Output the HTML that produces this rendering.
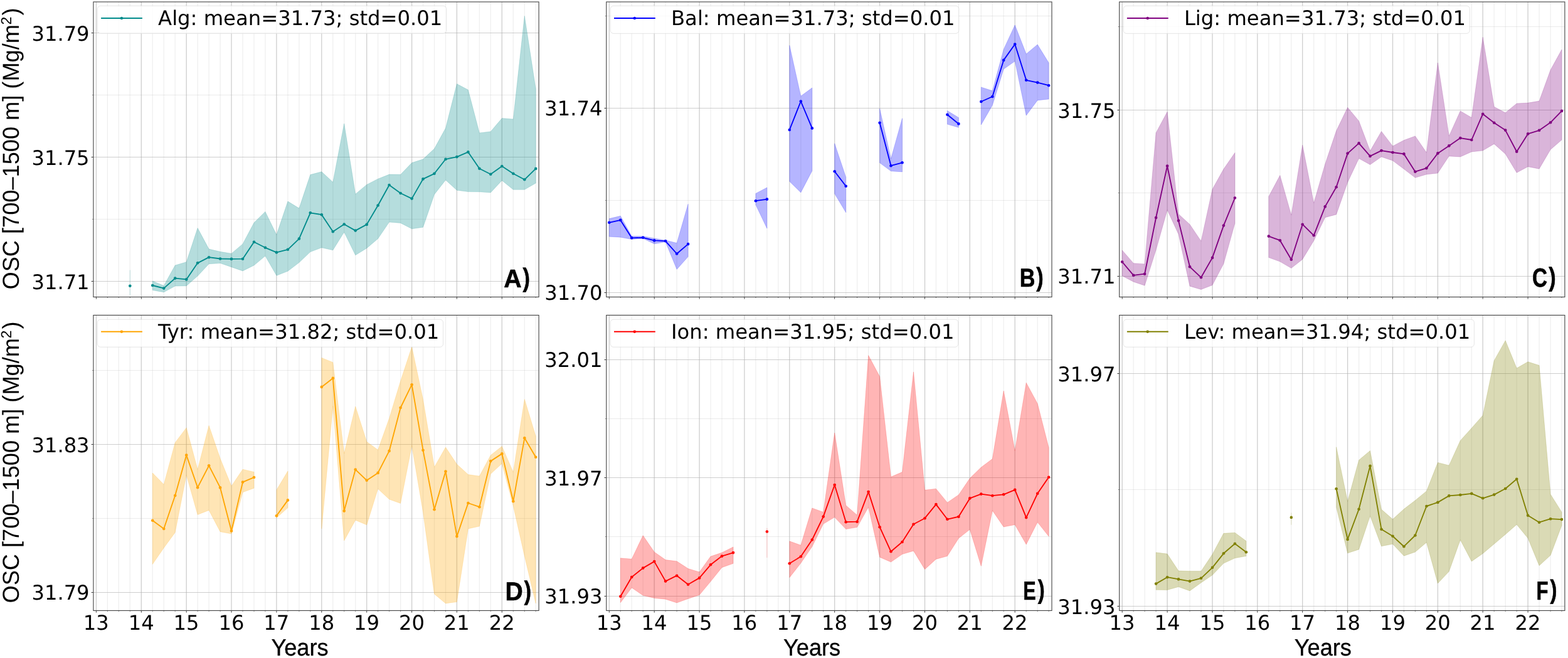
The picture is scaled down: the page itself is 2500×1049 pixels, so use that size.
<!DOCTYPE html>
<html lang="en">
<head>
<meta charset="utf-8">
<title>OSC time series</title>
<style>
html,body{margin:0;padding:0;background:#fff;}
body{width:2500px;height:1049px;overflow:hidden;}
svg{display:block;}
text{fill:#000;text-rendering:geometricPrecision;}
.tk{font-family:"DejaVu Sans","Liberation Sans",sans-serif;font-size:32.2px;text-rendering:geometricPrecision;}
.lg{font-family:"DejaVu Sans","Liberation Sans",sans-serif;font-size:32.25px;text-rendering:geometricPrecision;}
.xl{font-family:"Liberation Sans",Arial,sans-serif;font-size:36.2px;stroke:#000;stroke-width:0.3px;}
.yl{font-family:"Liberation Sans",Arial,sans-serif;font-size:36.2px;}
.lt{font-family:"Liberation Sans",Arial,sans-serif;font-weight:bold;font-size:40px;stroke:#000;stroke-width:0.6px;stroke-linejoin:round;}
</style>
</head>
<body>
<svg width="2500" height="1049" viewBox="0 0 2500 1049" role="img" aria-label="OSC time series for six sub-basins">
<rect width="2500" height="1049" fill="#fff"/>
<g>
<clipPath id="c0"><rect x="148.9" y="3.0" width="710.2" height="470.5"/></clipPath>
<path d="M171.4 3.0V473.5M189.3 3.0V473.5M207.3 3.0V473.5M243.2 3.0V473.5M261.2 3.0V473.5M279.2 3.0V473.5M315.1 3.0V473.5M333.1 3.0V473.5M351.1 3.0V473.5M387.0 3.0V473.5M405.0 3.0V473.5M422.9 3.0V473.5M458.9 3.0V473.5M476.9 3.0V473.5M494.8 3.0V473.5M530.8 3.0V473.5M548.7 3.0V473.5M566.7 3.0V473.5M602.6 3.0V473.5M620.6 3.0V473.5M638.6 3.0V473.5M674.5 3.0V473.5M692.5 3.0V473.5M710.5 3.0V473.5M746.4 3.0V473.5M764.4 3.0V473.5M782.3 3.0V473.5M818.3 3.0V473.5M836.3 3.0V473.5M854.2 3.0V473.5" stroke="#b0b0b0" stroke-width="1.2" stroke-opacity="0.22" fill="none"/>
<path d="M148.9 151.5H859.1M148.9 349.5H859.1" stroke="#b0b0b0" stroke-width="1" stroke-opacity="0.26" fill="none"/>
<path d="M153.4 3.0V473.5M225.3 3.0V473.5M297.2 3.0V473.5M369.0 3.0V473.5M440.9 3.0V473.5M512.8 3.0V473.5M584.7 3.0V473.5M656.6 3.0V473.5M728.4 3.0V473.5M800.3 3.0V473.5" stroke="#b0b0b0" stroke-width="1.3" stroke-opacity="0.62" fill="none"/>
<path d="M148.9 52.5H859.1M148.9 250.5H859.1M148.9 448.5H859.1" stroke="#b0b0b0" stroke-width="1" stroke-opacity="0.62" fill="none"/>
<g clip-path="url(#c0)">
<path d="M207.3 430.5V471.0" stroke="#008b8b" stroke-width="0.8" stroke-opacity="0.29" fill="none"/>
<path d="M243.2 448.1L261.2 455.5L279.2 423.0L297.2 417.7L315.1 363.5L333.1 397.1L351.1 401.3L369.0 404.2L387.0 388.9L405.0 355.1L422.9 337.4L440.9 374.3L458.9 321.0L476.9 332.1L494.8 278.5L512.8 273.8L530.8 290.4L548.7 197.1L566.7 309.5L584.7 294.4L602.6 285.2L620.6 278.1L638.6 278.3L656.6 259.6L674.5 253.8L692.5 237.1L710.5 204.2L728.4 133.7L746.4 143.3L764.4 211.9L782.3 209.7L800.3 188.6L818.3 190.0L836.3 25.4L854.2 141.7L854.2 292.0L836.3 302.3L818.3 302.3L800.3 287.7L782.3 307.0L764.4 305.8L746.4 305.6L728.4 303.3L710.5 287.0L692.5 310.0L674.5 362.3L656.6 364.8L638.6 355.5L620.6 354.1L602.6 380.6L584.7 395.7L566.7 406.8L548.7 370.1L530.8 398.8L512.8 394.8L494.8 401.6L476.9 418.6L458.9 432.3L440.9 439.3L422.9 408.1L405.0 423.0L387.0 431.9L369.0 425.7L351.1 419.6L333.1 420.7L315.1 440.1L297.2 455.7L279.2 456.1L261.2 465.8L243.2 462.6Z" fill="#008b8b" fill-opacity="0.29" stroke="#008b8b" stroke-opacity="0.18" stroke-width="1" stroke-linejoin="round"/>
<path d="M243.2 455.0L261.2 459.6L279.2 443.6L297.2 445.4L315.1 419.3L333.1 410.2L351.1 412.5L369.0 412.9L387.0 412.7L405.0 385.7L422.9 394.8L440.9 402.4L458.9 397.8L476.9 380.6L494.8 339.3L512.8 342.2L530.8 369.2L548.7 357.5L566.7 367.6L584.7 357.9L602.6 327.5L620.6 295.0L638.6 308.0L656.6 316.6L674.5 285.4L692.5 276.8L710.5 253.8L728.4 250.1L746.4 242.4L764.4 268.7L782.3 277.8L800.3 265.0L818.3 276.7L836.3 286.3L854.2 268.9" fill="none" stroke="#008b8b" stroke-width="1.85" stroke-linejoin="round" stroke-linecap="butt"/>
<circle cx="207.3" cy="455.7" r="2.3" fill="#008b8b"/>
<circle cx="243.2" cy="455.0" r="2.3" fill="#008b8b"/>
<circle cx="261.2" cy="459.6" r="2.3" fill="#008b8b"/>
<circle cx="279.2" cy="443.6" r="2.3" fill="#008b8b"/>
<circle cx="297.2" cy="445.4" r="2.3" fill="#008b8b"/>
<circle cx="315.1" cy="419.3" r="2.3" fill="#008b8b"/>
<circle cx="333.1" cy="410.2" r="2.3" fill="#008b8b"/>
<circle cx="351.1" cy="412.5" r="2.3" fill="#008b8b"/>
<circle cx="369.0" cy="412.9" r="2.3" fill="#008b8b"/>
<circle cx="387.0" cy="412.7" r="2.3" fill="#008b8b"/>
<circle cx="405.0" cy="385.7" r="2.3" fill="#008b8b"/>
<circle cx="422.9" cy="394.8" r="2.3" fill="#008b8b"/>
<circle cx="440.9" cy="402.4" r="2.3" fill="#008b8b"/>
<circle cx="458.9" cy="397.8" r="2.3" fill="#008b8b"/>
<circle cx="476.9" cy="380.6" r="2.3" fill="#008b8b"/>
<circle cx="494.8" cy="339.3" r="2.3" fill="#008b8b"/>
<circle cx="512.8" cy="342.2" r="2.3" fill="#008b8b"/>
<circle cx="530.8" cy="369.2" r="2.3" fill="#008b8b"/>
<circle cx="548.7" cy="357.5" r="2.3" fill="#008b8b"/>
<circle cx="566.7" cy="367.6" r="2.3" fill="#008b8b"/>
<circle cx="584.7" cy="357.9" r="2.3" fill="#008b8b"/>
<circle cx="602.6" cy="327.5" r="2.3" fill="#008b8b"/>
<circle cx="620.6" cy="295.0" r="2.3" fill="#008b8b"/>
<circle cx="638.6" cy="308.0" r="2.3" fill="#008b8b"/>
<circle cx="656.6" cy="316.6" r="2.3" fill="#008b8b"/>
<circle cx="674.5" cy="285.4" r="2.3" fill="#008b8b"/>
<circle cx="692.5" cy="276.8" r="2.3" fill="#008b8b"/>
<circle cx="710.5" cy="253.8" r="2.3" fill="#008b8b"/>
<circle cx="728.4" cy="250.1" r="2.3" fill="#008b8b"/>
<circle cx="746.4" cy="242.4" r="2.3" fill="#008b8b"/>
<circle cx="764.4" cy="268.7" r="2.3" fill="#008b8b"/>
<circle cx="782.3" cy="277.8" r="2.3" fill="#008b8b"/>
<circle cx="800.3" cy="265.0" r="2.3" fill="#008b8b"/>
<circle cx="818.3" cy="276.7" r="2.3" fill="#008b8b"/>
<circle cx="836.3" cy="286.3" r="2.3" fill="#008b8b"/>
<circle cx="854.2" cy="268.9" r="2.3" fill="#008b8b"/>
</g>
<path d="M171.4 473.5v1.6M189.3 473.5v1.6M207.3 473.5v1.6M243.2 473.5v1.6M261.2 473.5v1.6M279.2 473.5v1.6M315.1 473.5v1.6M333.1 473.5v1.6M351.1 473.5v1.6M387.0 473.5v1.6M405.0 473.5v1.6M422.9 473.5v1.6M458.9 473.5v1.6M476.9 473.5v1.6M494.8 473.5v1.6M530.8 473.5v1.6M548.7 473.5v1.6M566.7 473.5v1.6M602.6 473.5v1.6M620.6 473.5v1.6M638.6 473.5v1.6M674.5 473.5v1.6M692.5 473.5v1.6M710.5 473.5v1.6M746.4 473.5v1.6M764.4 473.5v1.6M782.3 473.5v1.6M818.3 473.5v1.6M836.3 473.5v1.6M854.2 473.5v1.6M148.9 151.5h-1.6M148.9 349.5h-1.6" stroke="#404040" stroke-width="0.7" fill="none"/>
<path d="M153.4 473.5v3.3M225.3 473.5v3.3M297.2 473.5v3.3M369.0 473.5v3.3M440.9 473.5v3.3M512.8 473.5v3.3M584.7 473.5v3.3M656.6 473.5v3.3M728.4 473.5v3.3M800.3 473.5v3.3M148.9 52.5h-3.3M148.9 250.5h-3.3M148.9 448.5h-3.3" stroke="#404040" stroke-width="1" fill="none"/>
<rect x="148.9" y="3.0" width="710.2" height="470.5" fill="none" stroke="#404040" stroke-width="1.1"/>
<rect x="155.3" y="9.3" width="556.3" height="44.1" rx="5" ry="5" fill="#fff" fill-opacity="0.8" stroke="#ccc" stroke-opacity="0.5" stroke-width="1"/>
<path d="M161.1 29.0H226.9" stroke="#008b8b" stroke-width="1.85" fill="none"/>
<circle cx="193.9" cy="29.0" r="2.3" fill="#008b8b"/>
<text class="lg" x="252.1" y="40.1">Alg: mean=31.73; std=0.01</text>
<text class="tk" x="142.6" y="64.7" text-anchor="end">31.79</text>
<text class="tk" x="142.6" y="262.7" text-anchor="end">31.75</text>
<text class="tk" x="142.6" y="460.7" text-anchor="end">31.71</text>
<text class="lt" transform="matrix(0.9836 0 0 1.0138 803.32 457.90)">A<tspan font-size="41.13" dx="1.76" dy="-0.66" textLength="11.65" lengthAdjust="spacingAndGlyphs">)</tspan></text>
<text class="yl" transform="translate(29.7 461.5) rotate(-90) scale(1 1.02)">OSC [700–1500 m] (Mg/m<tspan dy="-11.5" dx="-0.3" font-size="23">2</tspan><tspan dy="11.5" dx="2.2">)</tspan></text>
</g>
<g>
<clipPath id="c1"><rect x="966.8" y="3.0" width="710.2" height="470.5"/></clipPath>
<path d="M989.3 3.0V473.5M1007.2 3.0V473.5M1025.2 3.0V473.5M1061.1 3.0V473.5M1079.1 3.0V473.5M1097.1 3.0V473.5M1133.0 3.0V473.5M1151.0 3.0V473.5M1169.0 3.0V473.5M1204.9 3.0V473.5M1222.9 3.0V473.5M1240.8 3.0V473.5M1276.8 3.0V473.5M1294.8 3.0V473.5M1312.7 3.0V473.5M1348.7 3.0V473.5M1366.6 3.0V473.5M1384.6 3.0V473.5M1420.5 3.0V473.5M1438.5 3.0V473.5M1456.5 3.0V473.5M1492.4 3.0V473.5M1510.4 3.0V473.5M1528.4 3.0V473.5M1564.3 3.0V473.5M1582.3 3.0V473.5M1600.2 3.0V473.5M1636.2 3.0V473.5M1654.2 3.0V473.5M1672.1 3.0V473.5" stroke="#b0b0b0" stroke-width="1.2" stroke-opacity="0.22" fill="none"/>
<path d="M966.8 25.5H1677.0M966.8 319.5H1677.0" stroke="#b0b0b0" stroke-width="1" stroke-opacity="0.26" fill="none"/>
<path d="M971.3 3.0V473.5M1043.2 3.0V473.5M1115.1 3.0V473.5M1186.9 3.0V473.5M1258.8 3.0V473.5M1330.7 3.0V473.5M1402.6 3.0V473.5M1474.5 3.0V473.5M1546.3 3.0V473.5M1618.2 3.0V473.5" stroke="#b0b0b0" stroke-width="1.3" stroke-opacity="0.62" fill="none"/>
<path d="M966.8 172.5H1677.0M966.8 466.5H1677.0" stroke="#b0b0b0" stroke-width="1" stroke-opacity="0.62" fill="none"/>
<g clip-path="url(#c1)">
<path d="M971.3 348.6L989.3 344.3L1007.2 376.6L1025.2 376.6L1043.2 380.0L1061.1 383.0L1079.1 387.5L1097.1 325.3L1097.1 409.3L1079.1 429.4L1061.1 385.7L1043.2 388.7L1025.2 380.2L1007.2 381.6L989.3 378.2L971.3 377.2Z" fill="#0000ff" fill-opacity="0.29" stroke="#0000ff" stroke-opacity="0.18" stroke-width="1" stroke-linejoin="round"/>
<path d="M1204.9 308.5L1222.9 299.0L1222.9 364.2L1204.9 326.5Z" fill="#0000ff" fill-opacity="0.29" stroke="#0000ff" stroke-opacity="0.18" stroke-width="1" stroke-linejoin="round"/>
<path d="M1258.8 72.3L1276.8 153.2L1294.8 140.1L1294.8 272.4L1276.8 306.9L1258.8 289.3Z" fill="#0000ff" fill-opacity="0.29" stroke="#0000ff" stroke-opacity="0.18" stroke-width="1" stroke-linejoin="round"/>
<path d="M1330.7 228.7L1348.7 282.5L1348.7 338.8L1330.7 308.8Z" fill="#0000ff" fill-opacity="0.29" stroke="#0000ff" stroke-opacity="0.18" stroke-width="1" stroke-linejoin="round"/>
<path d="M1402.6 173.0L1420.5 253.0L1438.5 188.7L1438.5 273.9L1420.5 272.8L1402.6 259.6Z" fill="#0000ff" fill-opacity="0.29" stroke="#0000ff" stroke-opacity="0.18" stroke-width="1" stroke-linejoin="round"/>
<path d="M1510.4 176.5L1528.4 187.5L1528.4 203.2L1510.4 198.1Z" fill="#0000ff" fill-opacity="0.29" stroke="#0000ff" stroke-opacity="0.18" stroke-width="1" stroke-linejoin="round"/>
<path d="M1564.3 138.9L1582.3 144.8L1600.2 78.7L1618.2 39.9L1636.2 86.1L1654.2 71.0L1672.1 100.1L1672.1 158.0L1654.2 159.9L1636.2 184.0L1618.2 97.6L1600.2 110.2L1582.3 167.8L1564.3 198.9Z" fill="#0000ff" fill-opacity="0.29" stroke="#0000ff" stroke-opacity="0.18" stroke-width="1" stroke-linejoin="round"/>
<path d="M971.3 354.8L989.3 350.9L1007.2 379.3L1025.2 378.8L1043.2 383.4L1061.1 384.3L1079.1 404.5L1097.1 389.1" fill="none" stroke="#0000ff" stroke-width="1.85" stroke-linejoin="round" stroke-linecap="butt"/>
<path d="M1204.9 320.2L1222.9 317.6" fill="none" stroke="#0000ff" stroke-width="1.85" stroke-linejoin="round" stroke-linecap="butt"/>
<path d="M1258.8 207.0L1276.8 161.5L1294.8 204.4" fill="none" stroke="#0000ff" stroke-width="1.85" stroke-linejoin="round" stroke-linecap="butt"/>
<path d="M1330.7 273.3L1348.7 296.8" fill="none" stroke="#0000ff" stroke-width="1.85" stroke-linejoin="round" stroke-linecap="butt"/>
<path d="M1402.6 195.8L1420.5 264.2L1438.5 259.3" fill="none" stroke="#0000ff" stroke-width="1.85" stroke-linejoin="round" stroke-linecap="butt"/>
<path d="M1510.4 182.7L1528.4 197.4" fill="none" stroke="#0000ff" stroke-width="1.85" stroke-linejoin="round" stroke-linecap="butt"/>
<path d="M1564.3 162.0L1582.3 154.0L1600.2 95.9L1618.2 70.5L1636.2 127.8L1654.2 131.6L1672.1 136.2" fill="none" stroke="#0000ff" stroke-width="1.85" stroke-linejoin="round" stroke-linecap="butt"/>
<circle cx="971.3" cy="354.8" r="2.3" fill="#0000ff"/>
<circle cx="989.3" cy="350.9" r="2.3" fill="#0000ff"/>
<circle cx="1007.2" cy="379.3" r="2.3" fill="#0000ff"/>
<circle cx="1025.2" cy="378.8" r="2.3" fill="#0000ff"/>
<circle cx="1043.2" cy="383.4" r="2.3" fill="#0000ff"/>
<circle cx="1061.1" cy="384.3" r="2.3" fill="#0000ff"/>
<circle cx="1079.1" cy="404.5" r="2.3" fill="#0000ff"/>
<circle cx="1097.1" cy="389.1" r="2.3" fill="#0000ff"/>
<circle cx="1204.9" cy="320.2" r="2.3" fill="#0000ff"/>
<circle cx="1222.9" cy="317.6" r="2.3" fill="#0000ff"/>
<circle cx="1258.8" cy="207.0" r="2.3" fill="#0000ff"/>
<circle cx="1276.8" cy="161.5" r="2.3" fill="#0000ff"/>
<circle cx="1294.8" cy="204.4" r="2.3" fill="#0000ff"/>
<circle cx="1330.7" cy="273.3" r="2.3" fill="#0000ff"/>
<circle cx="1348.7" cy="296.8" r="2.3" fill="#0000ff"/>
<circle cx="1402.6" cy="195.8" r="2.3" fill="#0000ff"/>
<circle cx="1420.5" cy="264.2" r="2.3" fill="#0000ff"/>
<circle cx="1438.5" cy="259.3" r="2.3" fill="#0000ff"/>
<circle cx="1510.4" cy="182.7" r="2.3" fill="#0000ff"/>
<circle cx="1528.4" cy="197.4" r="2.3" fill="#0000ff"/>
<circle cx="1564.3" cy="162.0" r="2.3" fill="#0000ff"/>
<circle cx="1582.3" cy="154.0" r="2.3" fill="#0000ff"/>
<circle cx="1600.2" cy="95.9" r="2.3" fill="#0000ff"/>
<circle cx="1618.2" cy="70.5" r="2.3" fill="#0000ff"/>
<circle cx="1636.2" cy="127.8" r="2.3" fill="#0000ff"/>
<circle cx="1654.2" cy="131.6" r="2.3" fill="#0000ff"/>
<circle cx="1672.1" cy="136.2" r="2.3" fill="#0000ff"/>
</g>
<path d="M989.3 473.5v1.6M1007.2 473.5v1.6M1025.2 473.5v1.6M1061.1 473.5v1.6M1079.1 473.5v1.6M1097.1 473.5v1.6M1133.0 473.5v1.6M1151.0 473.5v1.6M1169.0 473.5v1.6M1204.9 473.5v1.6M1222.9 473.5v1.6M1240.8 473.5v1.6M1276.8 473.5v1.6M1294.8 473.5v1.6M1312.7 473.5v1.6M1348.7 473.5v1.6M1366.6 473.5v1.6M1384.6 473.5v1.6M1420.5 473.5v1.6M1438.5 473.5v1.6M1456.5 473.5v1.6M1492.4 473.5v1.6M1510.4 473.5v1.6M1528.4 473.5v1.6M1564.3 473.5v1.6M1582.3 473.5v1.6M1600.2 473.5v1.6M1636.2 473.5v1.6M1654.2 473.5v1.6M1672.1 473.5v1.6M966.8 25.5h-1.6M966.8 319.5h-1.6" stroke="#404040" stroke-width="0.7" fill="none"/>
<path d="M971.3 473.5v3.3M1043.2 473.5v3.3M1115.1 473.5v3.3M1186.9 473.5v3.3M1258.8 473.5v3.3M1330.7 473.5v3.3M1402.6 473.5v3.3M1474.5 473.5v3.3M1546.3 473.5v3.3M1618.2 473.5v3.3M966.8 172.5h-3.3M966.8 466.5h-3.3" stroke="#404040" stroke-width="1" fill="none"/>
<rect x="966.8" y="3.0" width="710.2" height="470.5" fill="none" stroke="#404040" stroke-width="1.1"/>
<rect x="973.2" y="9.3" width="555.6" height="44.1" rx="5" ry="5" fill="#fff" fill-opacity="0.8" stroke="#ccc" stroke-opacity="0.5" stroke-width="1"/>
<path d="M979.0 29.0H1044.8" stroke="#0000ff" stroke-width="1.85" fill="none"/>
<circle cx="1011.8" cy="29.0" r="2.3" fill="#0000ff"/>
<text class="lg" x="1070.0" y="40.1">Bal: mean=31.73; std=0.01</text>
<text class="tk" x="960.5" y="184.4" text-anchor="end">31.74</text>
<text class="tk" x="960.5" y="478.4" text-anchor="end">31.70</text>
<text class="lt" transform="matrix(0.8566 0 0 1.0320 1625.70 457.00)">B<tspan font-size="40.51" dx="2.12" dy="-1.35" textLength="13.37" lengthAdjust="spacingAndGlyphs">)</tspan></text>
</g>
<g>
<clipPath id="c2"><rect x="1784.7" y="3.0" width="710.2" height="470.5"/></clipPath>
<path d="M1807.2 3.0V473.5M1825.1 3.0V473.5M1843.1 3.0V473.5M1879.0 3.0V473.5M1897.0 3.0V473.5M1915.0 3.0V473.5M1950.9 3.0V473.5M1968.9 3.0V473.5M1986.9 3.0V473.5M2022.8 3.0V473.5M2040.8 3.0V473.5M2058.8 3.0V473.5M2094.7 3.0V473.5M2112.7 3.0V473.5M2130.6 3.0V473.5M2166.6 3.0V473.5M2184.5 3.0V473.5M2202.5 3.0V473.5M2238.4 3.0V473.5M2256.4 3.0V473.5M2274.4 3.0V473.5M2310.3 3.0V473.5M2328.3 3.0V473.5M2346.3 3.0V473.5M2382.2 3.0V473.5M2400.2 3.0V473.5M2418.2 3.0V473.5M2454.1 3.0V473.5M2472.1 3.0V473.5M2490.0 3.0V473.5" stroke="#b0b0b0" stroke-width="1.2" stroke-opacity="0.22" fill="none"/>
<path d="M1784.7 42.5H2494.9M1784.7 307.5H2494.9" stroke="#b0b0b0" stroke-width="1" stroke-opacity="0.26" fill="none"/>
<path d="M1789.2 3.0V473.5M1861.1 3.0V473.5M1933.0 3.0V473.5M2004.8 3.0V473.5M2076.7 3.0V473.5M2148.6 3.0V473.5M2220.5 3.0V473.5M2292.4 3.0V473.5M2364.2 3.0V473.5M2436.1 3.0V473.5" stroke="#b0b0b0" stroke-width="1.3" stroke-opacity="0.62" fill="none"/>
<path d="M1784.7 175.5H2494.9M1784.7 440.5H2494.9" stroke="#b0b0b0" stroke-width="1" stroke-opacity="0.62" fill="none"/>
<g clip-path="url(#c2)">
<path d="M1789.2 398.9L1807.2 419.7L1825.1 420.9L1843.1 211.7L1861.1 178.3L1879.0 341.3L1897.0 357.7L1915.0 384.4L1933.0 301.7L1950.9 269.6L1968.9 243.5L1968.9 356.1L1950.9 420.6L1933.0 454.6L1915.0 461.5L1897.0 456.2L1879.0 373.4L1861.1 334.7L1843.1 398.6L1825.1 455.2L1807.2 449.2L1789.2 439.8Z" fill="#800080" fill-opacity="0.29" stroke="#800080" stroke-opacity="0.18" stroke-width="1" stroke-linejoin="round"/>
<path d="M2022.8 313.3L2040.8 279.6L2058.8 342.9L2076.7 231.2L2094.7 323.7L2112.7 261.7L2130.6 208.6L2148.6 171.3L2166.6 192.9L2184.5 240.6L2202.5 209.4L2220.5 232.9L2238.4 223.6L2256.4 216.9L2274.4 243.3L2292.4 100.0L2310.3 216.9L2328.3 176.9L2346.3 187.5L2364.2 59.2L2382.2 170.2L2400.2 179.8L2418.2 164.9L2436.1 164.1L2454.1 161.1L2472.1 111.5L2490.0 79.0L2490.0 223.0L2472.1 238.5L2454.1 269.2L2436.1 265.7L2418.2 275.3L2400.2 245.4L2382.2 229.4L2364.2 240.1L2346.3 242.0L2328.3 250.0L2310.3 248.9L2292.4 276.1L2274.4 278.0L2256.4 283.3L2238.4 269.5L2220.5 256.1L2202.5 250.0L2184.5 262.5L2166.6 252.6L2148.6 290.8L2130.6 341.9L2112.7 346.7L2094.7 383.8L2076.7 413.4L2058.8 427.5L2040.8 417.1L2022.8 410.5Z" fill="#800080" fill-opacity="0.29" stroke="#800080" stroke-opacity="0.18" stroke-width="1" stroke-linejoin="round"/>
<path d="M1789.2 417.5L1807.2 438.9L1825.1 436.7L1843.1 347.0L1861.1 264.5L1879.0 351.7L1897.0 425.3L1915.0 442.3L1933.0 410.9L1950.9 359.6L1968.9 315.5" fill="none" stroke="#800080" stroke-width="1.85" stroke-linejoin="round" stroke-linecap="butt"/>
<path d="M2022.8 376.6L2040.8 383.2L2058.8 413.7L2076.7 357.7L2094.7 375.3L2112.7 329.4L2130.6 298.3L2148.6 244.6L2166.6 228.4L2184.5 248.9L2202.5 240.1L2220.5 243.0L2238.4 245.4L2256.4 273.7L2274.4 268.1L2292.4 244.4L2310.3 232.4L2328.3 220.1L2346.3 223.0L2364.2 181.7L2382.2 195.8L2400.2 207.6L2418.2 241.7L2436.1 213.4L2454.1 207.8L2472.1 195.3L2490.0 176.9" fill="none" stroke="#800080" stroke-width="1.85" stroke-linejoin="round" stroke-linecap="butt"/>
<circle cx="1789.2" cy="417.5" r="2.3" fill="#800080"/>
<circle cx="1807.2" cy="438.9" r="2.3" fill="#800080"/>
<circle cx="1825.1" cy="436.7" r="2.3" fill="#800080"/>
<circle cx="1843.1" cy="347.0" r="2.3" fill="#800080"/>
<circle cx="1861.1" cy="264.5" r="2.3" fill="#800080"/>
<circle cx="1879.0" cy="351.7" r="2.3" fill="#800080"/>
<circle cx="1897.0" cy="425.3" r="2.3" fill="#800080"/>
<circle cx="1915.0" cy="442.3" r="2.3" fill="#800080"/>
<circle cx="1933.0" cy="410.9" r="2.3" fill="#800080"/>
<circle cx="1950.9" cy="359.6" r="2.3" fill="#800080"/>
<circle cx="1968.9" cy="315.5" r="2.3" fill="#800080"/>
<circle cx="2022.8" cy="376.6" r="2.3" fill="#800080"/>
<circle cx="2040.8" cy="383.2" r="2.3" fill="#800080"/>
<circle cx="2058.8" cy="413.7" r="2.3" fill="#800080"/>
<circle cx="2076.7" cy="357.7" r="2.3" fill="#800080"/>
<circle cx="2094.7" cy="375.3" r="2.3" fill="#800080"/>
<circle cx="2112.7" cy="329.4" r="2.3" fill="#800080"/>
<circle cx="2130.6" cy="298.3" r="2.3" fill="#800080"/>
<circle cx="2148.6" cy="244.6" r="2.3" fill="#800080"/>
<circle cx="2166.6" cy="228.4" r="2.3" fill="#800080"/>
<circle cx="2184.5" cy="248.9" r="2.3" fill="#800080"/>
<circle cx="2202.5" cy="240.1" r="2.3" fill="#800080"/>
<circle cx="2220.5" cy="243.0" r="2.3" fill="#800080"/>
<circle cx="2238.4" cy="245.4" r="2.3" fill="#800080"/>
<circle cx="2256.4" cy="273.7" r="2.3" fill="#800080"/>
<circle cx="2274.4" cy="268.1" r="2.3" fill="#800080"/>
<circle cx="2292.4" cy="244.4" r="2.3" fill="#800080"/>
<circle cx="2310.3" cy="232.4" r="2.3" fill="#800080"/>
<circle cx="2328.3" cy="220.1" r="2.3" fill="#800080"/>
<circle cx="2346.3" cy="223.0" r="2.3" fill="#800080"/>
<circle cx="2364.2" cy="181.7" r="2.3" fill="#800080"/>
<circle cx="2382.2" cy="195.8" r="2.3" fill="#800080"/>
<circle cx="2400.2" cy="207.6" r="2.3" fill="#800080"/>
<circle cx="2418.2" cy="241.7" r="2.3" fill="#800080"/>
<circle cx="2436.1" cy="213.4" r="2.3" fill="#800080"/>
<circle cx="2454.1" cy="207.8" r="2.3" fill="#800080"/>
<circle cx="2472.1" cy="195.3" r="2.3" fill="#800080"/>
<circle cx="2490.0" cy="176.9" r="2.3" fill="#800080"/>
</g>
<path d="M1807.2 473.5v1.6M1825.1 473.5v1.6M1843.1 473.5v1.6M1879.0 473.5v1.6M1897.0 473.5v1.6M1915.0 473.5v1.6M1950.9 473.5v1.6M1968.9 473.5v1.6M1986.9 473.5v1.6M2022.8 473.5v1.6M2040.8 473.5v1.6M2058.8 473.5v1.6M2094.7 473.5v1.6M2112.7 473.5v1.6M2130.6 473.5v1.6M2166.6 473.5v1.6M2184.5 473.5v1.6M2202.5 473.5v1.6M2238.4 473.5v1.6M2256.4 473.5v1.6M2274.4 473.5v1.6M2310.3 473.5v1.6M2328.3 473.5v1.6M2346.3 473.5v1.6M2382.2 473.5v1.6M2400.2 473.5v1.6M2418.2 473.5v1.6M2454.1 473.5v1.6M2472.1 473.5v1.6M2490.0 473.5v1.6M1784.7 42.5h-1.6M1784.7 307.5h-1.6" stroke="#404040" stroke-width="0.7" fill="none"/>
<path d="M1789.2 473.5v3.3M1861.1 473.5v3.3M1933.0 473.5v3.3M2004.8 473.5v3.3M2076.7 473.5v3.3M2148.6 473.5v3.3M2220.5 473.5v3.3M2292.4 473.5v3.3M2364.2 473.5v3.3M2436.1 473.5v3.3M1784.7 175.5h-3.3M1784.7 440.5h-3.3" stroke="#404040" stroke-width="1" fill="none"/>
<rect x="1784.7" y="3.0" width="710.2" height="470.5" fill="none" stroke="#404040" stroke-width="1.1"/>
<rect x="1791.1" y="9.3" width="552.2" height="44.1" rx="5" ry="5" fill="#fff" fill-opacity="0.8" stroke="#ccc" stroke-opacity="0.5" stroke-width="1"/>
<path d="M1796.9 29.0H1862.7" stroke="#800080" stroke-width="1.85" fill="none"/>
<circle cx="1829.7" cy="29.0" r="2.3" fill="#800080"/>
<text class="lg" x="1887.9" y="40.1">Lig: mean=31.73; std=0.01</text>
<text class="tk" x="1778.4" y="187.6" text-anchor="end">31.75</text>
<text class="tk" x="1778.4" y="452.4" text-anchor="end">31.71</text>
<text class="lt" transform="matrix(0.8333 0 0 1.0452 2442.93 457.18)">C<tspan font-size="40.10" dx="2.59" dy="-1.53" textLength="13.75" lengthAdjust="spacingAndGlyphs">)</tspan></text>
</g>
<g>
<clipPath id="c3"><rect x="148.9" y="502.5" width="710.2" height="470.9"/></clipPath>
<path d="M171.4 502.5V973.4M189.3 502.5V973.4M207.3 502.5V973.4M243.2 502.5V973.4M261.2 502.5V973.4M279.2 502.5V973.4M315.1 502.5V973.4M333.1 502.5V973.4M351.1 502.5V973.4M387.0 502.5V973.4M405.0 502.5V973.4M422.9 502.5V973.4M458.9 502.5V973.4M476.9 502.5V973.4M494.8 502.5V973.4M530.8 502.5V973.4M548.7 502.5V973.4M566.7 502.5V973.4M602.6 502.5V973.4M620.6 502.5V973.4M638.6 502.5V973.4M674.5 502.5V973.4M692.5 502.5V973.4M710.5 502.5V973.4M746.4 502.5V973.4M764.4 502.5V973.4M782.3 502.5V973.4M818.3 502.5V973.4M836.3 502.5V973.4M854.2 502.5V973.4" stroke="#b0b0b0" stroke-width="1.2" stroke-opacity="0.22" fill="none"/>
<path d="M148.9 590.5H859.1M148.9 826.5H859.1" stroke="#b0b0b0" stroke-width="1" stroke-opacity="0.26" fill="none"/>
<path d="M153.4 502.5V973.4M225.3 502.5V973.4M297.2 502.5V973.4M369.0 502.5V973.4M440.9 502.5V973.4M512.8 502.5V973.4M584.7 502.5V973.4M656.6 502.5V973.4M728.4 502.5V973.4M800.3 502.5V973.4" stroke="#b0b0b0" stroke-width="1.3" stroke-opacity="0.62" fill="none"/>
<path d="M148.9 708.5H859.1M148.9 944.5H859.1" stroke="#b0b0b0" stroke-width="1" stroke-opacity="0.62" fill="none"/>
<g clip-path="url(#c3)">
<path d="M243.2 754.0L261.2 772.4L279.2 705.7L297.2 681.9L315.1 748.6L333.1 678.5L351.1 731.0L369.0 774.9L387.0 748.2L405.0 752.4L405.0 778.2L387.0 784.8L369.0 851.0L351.1 847.7L333.1 813.4L315.1 820.5L297.2 757.2L279.2 848.9L261.2 873.5L243.2 899.5Z" fill="#ffa500" fill-opacity="0.29" stroke="#ffa500" stroke-opacity="0.18" stroke-width="1" stroke-linejoin="round"/>
<path d="M440.9 781.0L458.9 751.1L458.9 809.6L440.9 825.4Z" fill="#ffa500" fill-opacity="0.29" stroke="#ffa500" stroke-opacity="0.18" stroke-width="1" stroke-linejoin="round"/>
<path d="M512.8 570.4L530.8 577.7L548.7 723.0L566.7 648.0L584.7 704.2L602.6 717.3L620.6 666.9L638.6 607.5L656.6 553.0L674.5 637.0L692.5 744.7L710.5 713.1L728.4 740.1L746.4 756.6L764.4 759.1L782.3 725.7L800.3 711.5L818.3 752.7L836.3 636.5L854.2 695.5L854.2 961.9L836.3 886.4L818.3 806.5L800.3 739.0L782.3 755.5L764.4 839.0L746.4 842.9L728.4 959.6L710.5 961.9L692.5 947.0L674.5 816.6L656.6 710.4L638.6 802.4L620.6 796.0L602.6 779.3L584.7 836.8L566.7 829.2L548.7 861.9L530.8 647.5L512.8 842.9Z" fill="#ffa500" fill-opacity="0.29" stroke="#ffa500" stroke-opacity="0.18" stroke-width="1" stroke-linejoin="round"/>
<path d="M243.2 829.8L261.2 843.0L279.2 790.0L297.2 725.6L315.1 777.2L333.1 742.3L351.1 777.4L369.0 846.4L387.0 768.6L405.0 761.0" fill="none" stroke="#ffa500" stroke-width="1.85" stroke-linejoin="round" stroke-linecap="butt"/>
<path d="M440.9 822.2L458.9 797.4" fill="none" stroke="#ffa500" stroke-width="1.85" stroke-linejoin="round" stroke-linecap="butt"/>
<path d="M512.8 616.9L530.8 602.9L548.7 814.6L566.7 748.6L584.7 765.8L602.6 753.9L620.6 718.9L638.6 650.0L656.6 613.2L674.5 717.7L692.5 812.3L710.5 751.5L728.4 855.1L746.4 802.0L764.4 808.2L782.3 735.1L800.3 723.4L818.3 799.2L836.3 698.3L854.2 728.7" fill="none" stroke="#ffa500" stroke-width="1.85" stroke-linejoin="round" stroke-linecap="butt"/>
<circle cx="243.2" cy="829.8" r="2.3" fill="#ffa500"/>
<circle cx="261.2" cy="843.0" r="2.3" fill="#ffa500"/>
<circle cx="279.2" cy="790.0" r="2.3" fill="#ffa500"/>
<circle cx="297.2" cy="725.6" r="2.3" fill="#ffa500"/>
<circle cx="315.1" cy="777.2" r="2.3" fill="#ffa500"/>
<circle cx="333.1" cy="742.3" r="2.3" fill="#ffa500"/>
<circle cx="351.1" cy="777.4" r="2.3" fill="#ffa500"/>
<circle cx="369.0" cy="846.4" r="2.3" fill="#ffa500"/>
<circle cx="387.0" cy="768.6" r="2.3" fill="#ffa500"/>
<circle cx="405.0" cy="761.0" r="2.3" fill="#ffa500"/>
<circle cx="440.9" cy="822.2" r="2.3" fill="#ffa500"/>
<circle cx="458.9" cy="797.4" r="2.3" fill="#ffa500"/>
<circle cx="512.8" cy="616.9" r="2.3" fill="#ffa500"/>
<circle cx="530.8" cy="602.9" r="2.3" fill="#ffa500"/>
<circle cx="548.7" cy="814.6" r="2.3" fill="#ffa500"/>
<circle cx="566.7" cy="748.6" r="2.3" fill="#ffa500"/>
<circle cx="584.7" cy="765.8" r="2.3" fill="#ffa500"/>
<circle cx="602.6" cy="753.9" r="2.3" fill="#ffa500"/>
<circle cx="620.6" cy="718.9" r="2.3" fill="#ffa500"/>
<circle cx="638.6" cy="650.0" r="2.3" fill="#ffa500"/>
<circle cx="656.6" cy="613.2" r="2.3" fill="#ffa500"/>
<circle cx="674.5" cy="717.7" r="2.3" fill="#ffa500"/>
<circle cx="692.5" cy="812.3" r="2.3" fill="#ffa500"/>
<circle cx="710.5" cy="751.5" r="2.3" fill="#ffa500"/>
<circle cx="728.4" cy="855.1" r="2.3" fill="#ffa500"/>
<circle cx="746.4" cy="802.0" r="2.3" fill="#ffa500"/>
<circle cx="764.4" cy="808.2" r="2.3" fill="#ffa500"/>
<circle cx="782.3" cy="735.1" r="2.3" fill="#ffa500"/>
<circle cx="800.3" cy="723.4" r="2.3" fill="#ffa500"/>
<circle cx="818.3" cy="799.2" r="2.3" fill="#ffa500"/>
<circle cx="836.3" cy="698.3" r="2.3" fill="#ffa500"/>
<circle cx="854.2" cy="728.7" r="2.3" fill="#ffa500"/>
</g>
<path d="M171.4 973.4v1.6M189.3 973.4v1.6M207.3 973.4v1.6M243.2 973.4v1.6M261.2 973.4v1.6M279.2 973.4v1.6M315.1 973.4v1.6M333.1 973.4v1.6M351.1 973.4v1.6M387.0 973.4v1.6M405.0 973.4v1.6M422.9 973.4v1.6M458.9 973.4v1.6M476.9 973.4v1.6M494.8 973.4v1.6M530.8 973.4v1.6M548.7 973.4v1.6M566.7 973.4v1.6M602.6 973.4v1.6M620.6 973.4v1.6M638.6 973.4v1.6M674.5 973.4v1.6M692.5 973.4v1.6M710.5 973.4v1.6M746.4 973.4v1.6M764.4 973.4v1.6M782.3 973.4v1.6M818.3 973.4v1.6M836.3 973.4v1.6M854.2 973.4v1.6M148.9 590.5h-1.6M148.9 826.5h-1.6" stroke="#404040" stroke-width="0.7" fill="none"/>
<path d="M153.4 973.4v3.3M225.3 973.4v3.3M297.2 973.4v3.3M369.0 973.4v3.3M440.9 973.4v3.3M512.8 973.4v3.3M584.7 973.4v3.3M656.6 973.4v3.3M728.4 973.4v3.3M800.3 973.4v3.3M148.9 708.5h-3.3M148.9 944.5h-3.3" stroke="#404040" stroke-width="1" fill="none"/>
<rect x="148.9" y="502.5" width="710.2" height="470.9" fill="none" stroke="#404040" stroke-width="1.1"/>
<rect x="155.3" y="509.2" width="551.2" height="44.1" rx="5" ry="5" fill="#fff" fill-opacity="0.8" stroke="#ccc" stroke-opacity="0.5" stroke-width="1"/>
<path d="M161.1 528.7H226.9" stroke="#ffa500" stroke-width="1.85" fill="none"/>
<circle cx="193.9" cy="528.7" r="2.3" fill="#ffa500"/>
<text class="lg" x="252.1" y="539.6">Tyr: mean=31.82; std=0.01</text>
<text class="tk" x="142.6" y="720.8" text-anchor="end">31.83</text>
<text class="tk" x="142.6" y="956.3" text-anchor="end">31.79</text>
<text class="tk" x="153.3" y="1004.3" text-anchor="middle">13</text>
<text class="tk" x="225.2" y="1004.3" text-anchor="middle">14</text>
<text class="tk" x="297.1" y="1004.3" text-anchor="middle">15</text>
<text class="tk" x="368.9" y="1004.3" text-anchor="middle">16</text>
<text class="tk" x="440.8" y="1004.3" text-anchor="middle">17</text>
<text class="tk" x="512.7" y="1004.3" text-anchor="middle">18</text>
<text class="tk" x="584.6" y="1004.3" text-anchor="middle">19</text>
<text class="tk" x="656.5" y="1004.3" text-anchor="middle">20</text>
<text class="tk" x="728.3" y="1004.3" text-anchor="middle">21</text>
<text class="tk" x="800.2" y="1004.3" text-anchor="middle">22</text>
<text class="xl" transform="translate(478.0 1045.3) scale(1 1.04)" text-anchor="middle">Years</text>
<text class="lt" transform="matrix(0.9788 0 0 1.0320 805.58 957.10)">D<tspan font-size="40.61" dx="1.85" dy="-1.08" textLength="11.58" lengthAdjust="spacingAndGlyphs">)</tspan></text>
<text class="yl" transform="translate(29.7 961.5) rotate(-90) scale(1 1.02)">OSC [700–1500 m] (Mg/m<tspan dy="-11.5" dx="-0.3" font-size="23">2</tspan><tspan dy="11.5" dx="2.2">)</tspan></text>
</g>
<g>
<clipPath id="c4"><rect x="966.8" y="502.5" width="710.2" height="470.9"/></clipPath>
<path d="M989.3 502.5V973.4M1007.2 502.5V973.4M1025.2 502.5V973.4M1061.1 502.5V973.4M1079.1 502.5V973.4M1097.1 502.5V973.4M1133.0 502.5V973.4M1151.0 502.5V973.4M1169.0 502.5V973.4M1204.9 502.5V973.4M1222.9 502.5V973.4M1240.8 502.5V973.4M1276.8 502.5V973.4M1294.8 502.5V973.4M1312.7 502.5V973.4M1348.7 502.5V973.4M1366.6 502.5V973.4M1384.6 502.5V973.4M1420.5 502.5V973.4M1438.5 502.5V973.4M1456.5 502.5V973.4M1492.4 502.5V973.4M1510.4 502.5V973.4M1528.4 502.5V973.4M1564.3 502.5V973.4M1582.3 502.5V973.4M1600.2 502.5V973.4M1636.2 502.5V973.4M1654.2 502.5V973.4M1672.1 502.5V973.4" stroke="#b0b0b0" stroke-width="1.2" stroke-opacity="0.22" fill="none"/>
<path d="M966.8 667.5H1677.0M966.8 855.5H1677.0" stroke="#b0b0b0" stroke-width="1" stroke-opacity="0.26" fill="none"/>
<path d="M971.3 502.5V973.4M1043.2 502.5V973.4M1115.1 502.5V973.4M1186.9 502.5V973.4M1258.8 502.5V973.4M1330.7 502.5V973.4M1402.6 502.5V973.4M1474.5 502.5V973.4M1546.3 502.5V973.4M1618.2 502.5V973.4" stroke="#b0b0b0" stroke-width="1.3" stroke-opacity="0.62" fill="none"/>
<path d="M966.8 573.5H1677.0M966.8 761.5H1677.0M966.8 950.5H1677.0" stroke="#b0b0b0" stroke-width="1" stroke-opacity="0.62" fill="none"/>
<g clip-path="url(#c4)">
<path d="M989.3 889.8L1007.2 891.2L1025.2 853.7L1043.2 880.0L1061.1 892.6L1079.1 894.8L1097.1 906.5L1115.1 912.0L1133.0 887.1L1151.0 881.1L1169.0 872.0L1169.0 898.3L1151.0 904.7L1133.0 927.1L1115.1 948.6L1097.1 954.5L1079.1 961.0L1061.1 955.2L1043.2 953.4L1025.2 949.3L1007.2 936.9L989.3 960.7Z" fill="#ff0000" fill-opacity="0.29" stroke="#ff0000" stroke-opacity="0.18" stroke-width="1" stroke-linejoin="round"/>
<path d="M1222.9 841.8V889.1" stroke="#ff0000" stroke-width="0.8" stroke-opacity="0.29" fill="none"/>
<path d="M1258.8 862.8L1276.8 869.2L1294.8 810.0L1312.7 816.4L1330.7 690.0L1348.7 805.8L1366.6 821.2L1384.6 566.6L1402.6 600.3L1420.5 760.3L1438.5 752.6L1456.5 592.9L1474.5 781.3L1492.4 779.2L1510.4 801.2L1528.4 788.9L1546.3 762.6L1564.3 745.0L1582.3 731.6L1600.2 623.1L1618.2 718.5L1636.2 610.2L1654.2 643.4L1672.1 713.5L1672.1 855.1L1654.2 832.6L1636.2 867.9L1618.2 836.5L1600.2 840.0L1582.3 813.9L1564.3 902.4L1546.3 844.1L1528.4 858.3L1510.4 886.6L1492.4 891.4L1474.5 907.7L1456.5 878.2L1438.5 883.6L1420.5 896.0L1402.6 888.2L1384.6 808.6L1366.6 840.6L1348.7 843.6L1330.7 824.6L1312.7 835.3L1294.8 871.5L1276.8 897.8L1258.8 920.7Z" fill="#ff0000" fill-opacity="0.29" stroke="#ff0000" stroke-opacity="0.18" stroke-width="1" stroke-linejoin="round"/>
<path d="M989.3 950.7L1007.2 920.0L1025.2 905.6L1043.2 895.1L1061.1 926.6L1079.1 917.7L1097.1 931.7L1115.1 921.4L1133.0 900.3L1151.0 886.6L1169.0 881.1" fill="none" stroke="#ff0000" stroke-width="1.85" stroke-linejoin="round" stroke-linecap="butt"/>
<path d="M1258.8 898.3L1276.8 887.3L1294.8 860.5L1312.7 823.6L1330.7 773.0L1348.7 832.2L1366.6 831.7L1384.6 784.1L1402.6 840.2L1420.5 879.3L1438.5 864.0L1456.5 835.8L1474.5 826.2L1492.4 804.1L1510.4 827.8L1528.4 823.7L1546.3 794.4L1564.3 787.6L1582.3 790.2L1600.2 788.3L1618.2 780.9L1636.2 825.1L1654.2 786.8L1672.1 760.7" fill="none" stroke="#ff0000" stroke-width="1.85" stroke-linejoin="round" stroke-linecap="butt"/>
<circle cx="989.3" cy="950.7" r="2.3" fill="#ff0000"/>
<circle cx="1007.2" cy="920.0" r="2.3" fill="#ff0000"/>
<circle cx="1025.2" cy="905.6" r="2.3" fill="#ff0000"/>
<circle cx="1043.2" cy="895.1" r="2.3" fill="#ff0000"/>
<circle cx="1061.1" cy="926.6" r="2.3" fill="#ff0000"/>
<circle cx="1079.1" cy="917.7" r="2.3" fill="#ff0000"/>
<circle cx="1097.1" cy="931.7" r="2.3" fill="#ff0000"/>
<circle cx="1115.1" cy="921.4" r="2.3" fill="#ff0000"/>
<circle cx="1133.0" cy="900.3" r="2.3" fill="#ff0000"/>
<circle cx="1151.0" cy="886.6" r="2.3" fill="#ff0000"/>
<circle cx="1169.0" cy="881.1" r="2.3" fill="#ff0000"/>
<circle cx="1222.9" cy="847.5" r="2.3" fill="#ff0000"/>
<circle cx="1258.8" cy="898.3" r="2.3" fill="#ff0000"/>
<circle cx="1276.8" cy="887.3" r="2.3" fill="#ff0000"/>
<circle cx="1294.8" cy="860.5" r="2.3" fill="#ff0000"/>
<circle cx="1312.7" cy="823.6" r="2.3" fill="#ff0000"/>
<circle cx="1330.7" cy="773.0" r="2.3" fill="#ff0000"/>
<circle cx="1348.7" cy="832.2" r="2.3" fill="#ff0000"/>
<circle cx="1366.6" cy="831.7" r="2.3" fill="#ff0000"/>
<circle cx="1384.6" cy="784.1" r="2.3" fill="#ff0000"/>
<circle cx="1402.6" cy="840.2" r="2.3" fill="#ff0000"/>
<circle cx="1420.5" cy="879.3" r="2.3" fill="#ff0000"/>
<circle cx="1438.5" cy="864.0" r="2.3" fill="#ff0000"/>
<circle cx="1456.5" cy="835.8" r="2.3" fill="#ff0000"/>
<circle cx="1474.5" cy="826.2" r="2.3" fill="#ff0000"/>
<circle cx="1492.4" cy="804.1" r="2.3" fill="#ff0000"/>
<circle cx="1510.4" cy="827.8" r="2.3" fill="#ff0000"/>
<circle cx="1528.4" cy="823.7" r="2.3" fill="#ff0000"/>
<circle cx="1546.3" cy="794.4" r="2.3" fill="#ff0000"/>
<circle cx="1564.3" cy="787.6" r="2.3" fill="#ff0000"/>
<circle cx="1582.3" cy="790.2" r="2.3" fill="#ff0000"/>
<circle cx="1600.2" cy="788.3" r="2.3" fill="#ff0000"/>
<circle cx="1618.2" cy="780.9" r="2.3" fill="#ff0000"/>
<circle cx="1636.2" cy="825.1" r="2.3" fill="#ff0000"/>
<circle cx="1654.2" cy="786.8" r="2.3" fill="#ff0000"/>
<circle cx="1672.1" cy="760.7" r="2.3" fill="#ff0000"/>
</g>
<path d="M989.3 973.4v1.6M1007.2 973.4v1.6M1025.2 973.4v1.6M1061.1 973.4v1.6M1079.1 973.4v1.6M1097.1 973.4v1.6M1133.0 973.4v1.6M1151.0 973.4v1.6M1169.0 973.4v1.6M1204.9 973.4v1.6M1222.9 973.4v1.6M1240.8 973.4v1.6M1276.8 973.4v1.6M1294.8 973.4v1.6M1312.7 973.4v1.6M1348.7 973.4v1.6M1366.6 973.4v1.6M1384.6 973.4v1.6M1420.5 973.4v1.6M1438.5 973.4v1.6M1456.5 973.4v1.6M1492.4 973.4v1.6M1510.4 973.4v1.6M1528.4 973.4v1.6M1564.3 973.4v1.6M1582.3 973.4v1.6M1600.2 973.4v1.6M1636.2 973.4v1.6M1654.2 973.4v1.6M1672.1 973.4v1.6M966.8 667.5h-1.6M966.8 855.5h-1.6" stroke="#404040" stroke-width="0.7" fill="none"/>
<path d="M971.3 973.4v3.3M1043.2 973.4v3.3M1115.1 973.4v3.3M1186.9 973.4v3.3M1258.8 973.4v3.3M1330.7 973.4v3.3M1402.6 973.4v3.3M1474.5 973.4v3.3M1546.3 973.4v3.3M1618.2 973.4v3.3M966.8 573.5h-3.3M966.8 761.5h-3.3M966.8 950.5h-3.3" stroke="#404040" stroke-width="1" fill="none"/>
<rect x="966.8" y="502.5" width="710.2" height="470.9" fill="none" stroke="#404040" stroke-width="1.1"/>
<rect x="973.2" y="509.2" width="554.5" height="44.1" rx="5" ry="5" fill="#fff" fill-opacity="0.8" stroke="#ccc" stroke-opacity="0.5" stroke-width="1"/>
<path d="M979.0 528.7H1044.8" stroke="#ff0000" stroke-width="1.85" fill="none"/>
<circle cx="1011.8" cy="528.7" r="2.3" fill="#ff0000"/>
<text class="lg" x="1070.0" y="539.6">Ion: mean=31.95; std=0.01</text>
<text class="tk" x="960.5" y="585.3" text-anchor="end">32.01</text>
<text class="tk" x="960.5" y="774.0" text-anchor="end">31.97</text>
<text class="tk" x="960.5" y="962.2" text-anchor="end">31.93</text>
<text class="tk" x="971.2" y="1004.3" text-anchor="middle">13</text>
<text class="tk" x="1043.1" y="1004.3" text-anchor="middle">14</text>
<text class="tk" x="1115.0" y="1004.3" text-anchor="middle">15</text>
<text class="tk" x="1186.8" y="1004.3" text-anchor="middle">16</text>
<text class="tk" x="1258.7" y="1004.3" text-anchor="middle">17</text>
<text class="tk" x="1330.6" y="1004.3" text-anchor="middle">18</text>
<text class="tk" x="1402.5" y="1004.3" text-anchor="middle">19</text>
<text class="tk" x="1474.4" y="1004.3" text-anchor="middle">20</text>
<text class="tk" x="1546.2" y="1004.3" text-anchor="middle">21</text>
<text class="tk" x="1618.1" y="1004.3" text-anchor="middle">22</text>
<text class="xl" transform="translate(1294.6 1045.3) scale(1 1.04)" text-anchor="middle">Years</text>
<text class="lt" transform="matrix(0.7665 0 0 1.0392 1631.35 955.70)">E<tspan font-size="40.22" dx="4.01" dy="-1.34" textLength="14.33" lengthAdjust="spacingAndGlyphs">)</tspan></text>
</g>
<g>
<clipPath id="c5"><rect x="1784.7" y="502.5" width="710.2" height="470.9"/></clipPath>
<path d="M1807.2 502.5V973.4M1825.1 502.5V973.4M1843.1 502.5V973.4M1879.0 502.5V973.4M1897.0 502.5V973.4M1915.0 502.5V973.4M1950.9 502.5V973.4M1968.9 502.5V973.4M1986.9 502.5V973.4M2022.8 502.5V973.4M2040.8 502.5V973.4M2058.8 502.5V973.4M2094.7 502.5V973.4M2112.7 502.5V973.4M2130.6 502.5V973.4M2166.6 502.5V973.4M2184.5 502.5V973.4M2202.5 502.5V973.4M2238.4 502.5V973.4M2256.4 502.5V973.4M2274.4 502.5V973.4M2310.3 502.5V973.4M2328.3 502.5V973.4M2346.3 502.5V973.4M2382.2 502.5V973.4M2400.2 502.5V973.4M2418.2 502.5V973.4M2454.1 502.5V973.4M2472.1 502.5V973.4M2490.0 502.5V973.4" stroke="#b0b0b0" stroke-width="1.2" stroke-opacity="0.22" fill="none"/>
<path d="M1784.7 780.5H2494.9" stroke="#b0b0b0" stroke-width="1" stroke-opacity="0.26" fill="none"/>
<path d="M1789.2 502.5V973.4M1861.1 502.5V973.4M1933.0 502.5V973.4M2004.8 502.5V973.4M2076.7 502.5V973.4M2148.6 502.5V973.4M2220.5 502.5V973.4M2292.4 502.5V973.4M2364.2 502.5V973.4M2436.1 502.5V973.4" stroke="#b0b0b0" stroke-width="1.3" stroke-opacity="0.62" fill="none"/>
<path d="M1784.7 595.5H2494.9M1784.7 966.5H2494.9" stroke="#b0b0b0" stroke-width="1" stroke-opacity="0.62" fill="none"/>
<g clip-path="url(#c5)">
<path d="M1843.1 880.7L1861.1 883.1L1879.0 910.1L1897.0 910.6L1915.0 910.6L1933.0 883.7L1950.9 850.3L1968.9 849.2L1986.9 862.6L1986.9 886.6L1968.9 889.8L1950.9 898.1L1933.0 916.8L1915.0 929.0L1897.0 941.9L1879.0 935.5L1861.1 940.5L1843.1 940.3Z" fill="#808000" fill-opacity="0.29" stroke="#808000" stroke-opacity="0.18" stroke-width="1" stroke-linejoin="round"/>
<path d="M2058.8 817.5V836.7" stroke="#808000" stroke-width="0.8" stroke-opacity="0.29" fill="none"/>
<path d="M2130.6 712.7L2148.6 799.4L2166.6 733.5L2184.5 718.6L2202.5 812.1L2220.5 827.8L2238.4 811.6L2256.4 797.8L2274.4 782.9L2292.4 737.4L2310.3 742.0L2328.3 702.4L2346.3 682.5L2364.2 662.3L2382.2 574.9L2400.2 542.9L2418.2 587.0L2436.1 576.8L2454.1 582.5L2472.1 788.0L2490.0 816.4L2490.0 837.7L2472.1 885.3L2454.1 901.7L2436.1 858.1L2418.2 836.2L2400.2 852.0L2382.2 867.3L2364.2 882.4L2346.3 894.9L2328.3 860.7L2310.3 911.1L2292.4 930.0L2274.4 864.7L2256.4 880.0L2238.4 886.2L2220.5 867.3L2202.5 870.8L2184.5 822.6L2166.6 875.9L2148.6 881.8L2130.6 808.7Z" fill="#808000" fill-opacity="0.29" stroke="#808000" stroke-opacity="0.18" stroke-width="1" stroke-linejoin="round"/>
<path d="M1843.1 930.6L1861.1 920.2L1879.0 923.4L1897.0 926.6L1915.0 921.8L1933.0 904.8L1950.9 882.3L1968.9 866.8L1986.9 880.2" fill="none" stroke="#808000" stroke-width="1.85" stroke-linejoin="round" stroke-linecap="butt"/>
<path d="M2130.6 779.3L2148.6 859.9L2166.6 811.7L2184.5 742.9L2202.5 843.8L2220.5 854.8L2238.4 871.2L2256.4 853.5L2274.4 807.0L2292.4 800.9L2310.3 790.4L2328.3 789.0L2346.3 786.9L2364.2 794.3L2382.2 788.6L2400.2 779.0L2418.2 763.8L2436.1 821.7L2454.1 832.7L2472.1 827.2L2490.0 828.1" fill="none" stroke="#808000" stroke-width="1.85" stroke-linejoin="round" stroke-linecap="butt"/>
<circle cx="1843.1" cy="930.6" r="2.3" fill="#808000"/>
<circle cx="1861.1" cy="920.2" r="2.3" fill="#808000"/>
<circle cx="1879.0" cy="923.4" r="2.3" fill="#808000"/>
<circle cx="1897.0" cy="926.6" r="2.3" fill="#808000"/>
<circle cx="1915.0" cy="921.8" r="2.3" fill="#808000"/>
<circle cx="1933.0" cy="904.8" r="2.3" fill="#808000"/>
<circle cx="1950.9" cy="882.3" r="2.3" fill="#808000"/>
<circle cx="1968.9" cy="866.8" r="2.3" fill="#808000"/>
<circle cx="1986.9" cy="880.2" r="2.3" fill="#808000"/>
<circle cx="2058.8" cy="824.9" r="2.3" fill="#808000"/>
<circle cx="2130.6" cy="779.3" r="2.3" fill="#808000"/>
<circle cx="2148.6" cy="859.9" r="2.3" fill="#808000"/>
<circle cx="2166.6" cy="811.7" r="2.3" fill="#808000"/>
<circle cx="2184.5" cy="742.9" r="2.3" fill="#808000"/>
<circle cx="2202.5" cy="843.8" r="2.3" fill="#808000"/>
<circle cx="2220.5" cy="854.8" r="2.3" fill="#808000"/>
<circle cx="2238.4" cy="871.2" r="2.3" fill="#808000"/>
<circle cx="2256.4" cy="853.5" r="2.3" fill="#808000"/>
<circle cx="2274.4" cy="807.0" r="2.3" fill="#808000"/>
<circle cx="2292.4" cy="800.9" r="2.3" fill="#808000"/>
<circle cx="2310.3" cy="790.4" r="2.3" fill="#808000"/>
<circle cx="2328.3" cy="789.0" r="2.3" fill="#808000"/>
<circle cx="2346.3" cy="786.9" r="2.3" fill="#808000"/>
<circle cx="2364.2" cy="794.3" r="2.3" fill="#808000"/>
<circle cx="2382.2" cy="788.6" r="2.3" fill="#808000"/>
<circle cx="2400.2" cy="779.0" r="2.3" fill="#808000"/>
<circle cx="2418.2" cy="763.8" r="2.3" fill="#808000"/>
<circle cx="2436.1" cy="821.7" r="2.3" fill="#808000"/>
<circle cx="2454.1" cy="832.7" r="2.3" fill="#808000"/>
<circle cx="2472.1" cy="827.2" r="2.3" fill="#808000"/>
<circle cx="2490.0" cy="828.1" r="2.3" fill="#808000"/>
</g>
<path d="M1807.2 973.4v1.6M1825.1 973.4v1.6M1843.1 973.4v1.6M1879.0 973.4v1.6M1897.0 973.4v1.6M1915.0 973.4v1.6M1950.9 973.4v1.6M1968.9 973.4v1.6M1986.9 973.4v1.6M2022.8 973.4v1.6M2040.8 973.4v1.6M2058.8 973.4v1.6M2094.7 973.4v1.6M2112.7 973.4v1.6M2130.6 973.4v1.6M2166.6 973.4v1.6M2184.5 973.4v1.6M2202.5 973.4v1.6M2238.4 973.4v1.6M2256.4 973.4v1.6M2274.4 973.4v1.6M2310.3 973.4v1.6M2328.3 973.4v1.6M2346.3 973.4v1.6M2382.2 973.4v1.6M2400.2 973.4v1.6M2418.2 973.4v1.6M2454.1 973.4v1.6M2472.1 973.4v1.6M2490.0 973.4v1.6M1784.7 780.5h-1.6" stroke="#404040" stroke-width="0.7" fill="none"/>
<path d="M1789.2 973.4v3.3M1861.1 973.4v3.3M1933.0 973.4v3.3M2004.8 973.4v3.3M2076.7 973.4v3.3M2148.6 973.4v3.3M2220.5 973.4v3.3M2292.4 973.4v3.3M2364.2 973.4v3.3M2436.1 973.4v3.3M1784.7 595.5h-3.3M1784.7 966.5h-3.3" stroke="#404040" stroke-width="1" fill="none"/>
<rect x="1784.7" y="502.5" width="710.2" height="470.9" fill="none" stroke="#404040" stroke-width="1.1"/>
<rect x="1791.1" y="509.2" width="559.3" height="44.1" rx="5" ry="5" fill="#fff" fill-opacity="0.8" stroke="#ccc" stroke-opacity="0.5" stroke-width="1"/>
<path d="M1796.9 528.7H1862.7" stroke="#808000" stroke-width="1.85" fill="none"/>
<circle cx="1829.7" cy="528.7" r="2.3" fill="#808000"/>
<text class="lg" x="1887.9" y="539.6">Lev: mean=31.94; std=0.01</text>
<text class="tk" x="1778.4" y="607.8" text-anchor="end">31.97</text>
<text class="tk" x="1778.4" y="978.5" text-anchor="end">31.93</text>
<text class="tk" x="1789.1" y="1004.3" text-anchor="middle">13</text>
<text class="tk" x="1861.0" y="1004.3" text-anchor="middle">14</text>
<text class="tk" x="1932.9" y="1004.3" text-anchor="middle">15</text>
<text class="tk" x="2004.7" y="1004.3" text-anchor="middle">16</text>
<text class="tk" x="2076.6" y="1004.3" text-anchor="middle">17</text>
<text class="tk" x="2148.5" y="1004.3" text-anchor="middle">18</text>
<text class="tk" x="2220.4" y="1004.3" text-anchor="middle">19</text>
<text class="tk" x="2292.3" y="1004.3" text-anchor="middle">20</text>
<text class="tk" x="2364.1" y="1004.3" text-anchor="middle">21</text>
<text class="tk" x="2436.0" y="1004.3" text-anchor="middle">22</text>
<text class="xl" transform="translate(2109.3 1045.3) scale(1 1.04)" text-anchor="middle">Years</text>
<text class="lt" transform="matrix(0.7791 0 0 1.0392 2449.51 955.70)">F<tspan font-size="40.22" dx="3.87" dy="-1.34" textLength="14.10" lengthAdjust="spacingAndGlyphs">)</tspan></text>
</g>
</svg>
</body>
</html>
